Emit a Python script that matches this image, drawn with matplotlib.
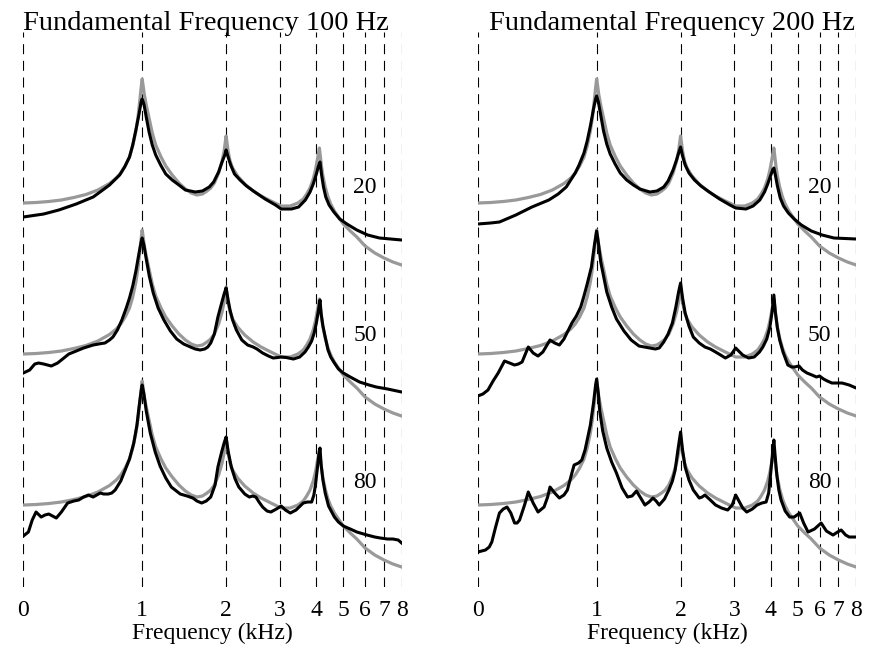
import numpy as np
import matplotlib.pyplot as plt

plt.rcParams['font.family'] = ['Liberation Serif', 'DejaVu Serif']

# frequency warping of the x axis (all-pass warping, fs = 16 kHz)
alpha = 0.46


def warp(f, a=alpha):
    f = np.asarray(f, dtype=float)
    w = np.pi * f / 8.0
    return (w + 2 * np.arctan(a * np.sin(w) / (1 - a * np.cos(w)))) * 8.0 / np.pi


def unwarp(x):
    return warp(x, -alpha)


# true spectrum (gray), level relative to 0 Hz
true_f = [0, 0.1, 0.2, 0.3, 0.4, 0.5, 0.6, 0.7, 0.76, 0.8, 0.84, 0.88, 0.91, 0.94,
          0.96, 0.98, 0.99, 1.0, 1.01, 1.02, 1.04, 1.07, 1.1, 1.135, 1.19, 1.24,
          1.31, 1.385, 1.46, 1.53, 1.6, 1.67, 1.73, 1.78, 1.83, 1.89, 1.94, 1.97,
          1.99, 2.0, 2.01, 2.03, 2.06, 2.1, 2.18, 2.3, 2.45, 2.6, 2.8, 3.03, 3.25,
          3.45, 3.6, 3.7, 3.8, 3.9, 3.97, 4.03, 4.07, 4.1, 4.13, 4.17, 4.22, 4.3,
          4.4, 4.5, 4.64, 4.8, 5.0, 5.3, 5.6, 6.0, 6.5, 7.0, 7.5, 8.0]
true_db = [0, 0.5, 1.5, 3, 5.5, 8.5, 13, 19.5, 25, 30, 37, 46, 57, 72,
           86, 105, 115, 124, 117, 109, 98, 84, 70, 58, 46, 37,
           28, 20, 14, 10, 8, 9, 12, 15, 20, 30, 42, 52,
           62, 67, 62, 52, 42, 35, 27, 19, 12, 7, 2, -3, -3,
           0, 4, 9, 15, 24, 33, 43, 50, 55, 47, 37, 27, 16,
           6, -1, -8, -14, -21, -28, -34, -43, -50, -55, -59, -62]

# estimated spectra (black), F0 = 100 Hz
est100_20_f = [0, 0.16, 0.28, 0.42, 0.56, 0.63, 0.7, 0.79, 0.835, 0.88, 0.91, 0.94,
               0.97, 0.99, 1.0, 1.017, 1.04, 1.068, 1.1, 1.135, 1.186, 1.24, 1.31,
               1.385, 1.46, 1.58, 1.67, 1.76, 1.82, 1.89, 1.94, 1.98, 2.0, 2.03,
               2.07, 2.13, 2.22, 2.33, 2.48, 2.68, 2.9, 3.03, 3.28, 3.47, 3.66, 3.8,
               3.9, 4.0, 4.06, 4.12, 4.17, 4.24, 4.32, 4.44, 4.62, 4.85, 5.15, 5.6,
               6.13, 6.75, 8.0]
est100_20_db = [-14, -11, -7, -1, 6, 12, 18, 28, 36, 46, 58, 73,
                89, 101, 104, 99, 86, 71, 58, 48, 38, 29, 23,
                18, 13, 11, 12, 16, 21, 31, 41, 48, 53, 46,
                38, 29, 23, 17, 11, 4, -2, -6, -6, -4, 3, 11,
                19, 29, 36, 41, 29, 16, 6, -2, -9, -16, -21, -27,
                -32, -35, -37]

est100_50_f = [0, 0.05, 0.09, 0.12, 0.16, 0.22, 0.27, 0.31, 0.36, 0.42, 0.48, 0.56,
               0.63, 0.66, 0.7, 0.73, 0.77, 0.81, 0.85, 0.88, 0.91, 0.94, 0.97,
               0.99, 1.0, 1.017, 1.04, 1.07, 1.11, 1.16, 1.22, 1.29, 1.36, 1.44,
               1.52, 1.58, 1.64, 1.7, 1.74, 1.78, 1.83, 1.88, 1.93, 1.97, 2.0, 2.03,
               2.06, 2.1, 2.16, 2.25, 2.35, 2.45, 2.52, 2.63, 2.75, 2.85, 2.95, 3.03,
               3.15, 3.33, 3.5, 3.65, 3.75, 3.85, 3.93, 4.0, 4.06, 4.12, 4.16, 4.22,
               4.3, 4.4, 4.5, 4.64, 4.8, 5.0, 5.3, 5.73, 6.2, 6.58, 7.2, 8.0]
est100_50_db = [-19, -16, -10, -9, -10, -12, -9, -5, 0, 3, 6, 9,
                10.5, 11, 14, 17, 24, 34, 46, 56, 68, 83, 101,
                112, 116, 109, 95, 78, 61, 46, 34, 23, 15, 10,
                7, 5, 4, 5, 7, 11, 20, 37, 50, 60, 66, 54,
                44, 34, 24, 14, 9, 7, 5, 1, -2, -4, -3.5, -3,
                -3.5, -5, -3, 2, 7, 13, 21, 31, 42, 54, 40, 28,
                17, 4, -3, -9, -15, -19, -23, -28, -31, -33, -35, -38]

est100_80_f = [0, 0.04, 0.07, 0.1, 0.14, 0.17, 0.2, 0.23, 0.26, 0.3, 0.35, 0.4,
               0.44, 0.48, 0.52, 0.56, 0.62, 0.65, 0.69, 0.72, 0.75, 0.8, 0.84,
               0.88, 0.92, 0.95, 0.97, 0.99, 1.0, 1.017, 1.04, 1.08, 1.13, 1.18,
               1.24, 1.3, 1.4, 1.48, 1.55, 1.6, 1.66, 1.72, 1.78, 1.84, 1.88, 1.93,
               1.97, 2.0, 2.03, 2.08, 2.14, 2.2, 2.3, 2.38, 2.44, 2.5, 2.56, 2.63,
               2.72, 2.8, 2.92, 3.03, 3.13, 3.25, 3.4, 3.6, 3.72, 3.85, 3.92, 3.97,
               4.03, 4.08, 4.12, 4.16, 4.22, 4.3, 4.42, 4.64, 4.8, 5.0, 5.3, 5.6,
               6.1, 6.5, 6.8, 7.2, 7.5, 7.8, 8.0]
est100_80_db = [-31, -27, -15, -7, -12, -10, -9, -11, -13, -7, 2, 4,
                5, 8, 10, 8, 12, 11, 11, 12, 15, 24, 35,
                46, 62, 80, 98, 114, 120, 111, 94, 72, 53, 39,
                27, 18, 11, 9, 7, 4, 2, 4, 8, 20, 38, 52,
                62, 68, 54, 38, 26, 18, 11, 8, 9, 8, 3, -2,
                -6, -7, -4, -1, -5, -8, -5, 2, 3, 3, 10, 20,
                36, 50, 57, 40, 25, 12, -1, -12, -17, -21, -24, -27,
                -30, -32, -33, -34, -34, -35, -38]

# estimated spectra (black), F0 = 200 Hz
est200_20_f = [0, 0.1, 0.17, 0.3, 0.43, 0.57, 0.65, 0.72, 0.8, 0.835, 0.88, 0.91,
               0.94, 0.97, 0.99, 1.0, 1.017, 1.04, 1.068, 1.1, 1.135, 1.186, 1.24,
               1.31, 1.385, 1.46, 1.58, 1.67, 1.76, 1.82, 1.89, 1.94, 1.98, 2.0,
               2.03, 2.07, 2.13, 2.22, 2.33, 2.48, 2.68, 2.9, 3.03, 3.28, 3.47, 3.66,
               3.8, 3.9, 4.0, 4.06, 4.1, 4.15, 4.22, 4.32, 4.44, 4.62, 4.85, 5.15,
               5.6, 6.13, 6.75, 8.0]
est200_20_db = [-21, -20, -19, -12, -4, 3, 9, 16, 30, 38, 50, 62,
                77, 94, 104, 107, 101, 88, 72, 59, 49, 39, 30,
                23, 18, 14, 11, 12, 16, 22, 33, 43, 52, 56,
                47, 38, 30, 23, 17, 11, 4, -2, -5, -6, -3, 3,
                11, 19, 28, 33, 35, 28, 17, 5, -3, -10, -16, -22,
                -28, -32, -35, -36]

est200_50_f = [0, 0.04, 0.08, 0.12, 0.16, 0.21, 0.25, 0.29, 0.32, 0.35, 0.4, 0.44,
               0.48, 0.52, 0.58, 0.62, 0.66, 0.7, 0.77, 0.81, 0.85, 0.88, 0.91,
               0.95, 0.98, 1.0, 1.017, 1.04, 1.07, 1.1, 1.15, 1.2, 1.28, 1.36, 1.45,
               1.58, 1.65, 1.7, 1.76, 1.82, 1.88, 1.93, 1.97, 2.0, 2.03, 2.07, 2.13,
               2.2, 2.3, 2.4, 2.5, 2.6, 2.7, 2.8, 2.92, 3.03, 3.1, 3.2, 3.35, 3.5,
               3.65, 3.75, 3.87, 3.97, 4.04, 4.1, 4.15, 4.22, 4.3, 4.42, 4.6, 4.75,
               4.85, 5.05, 5.2, 5.4, 5.63, 5.85, 6.0, 6.2, 6.4, 6.64, 6.9, 7.2, 7.6,
               8.0]
est200_50_db = [-42, -40, -36, -27, -19, -7, -9, -11, -10, -8, 7, 1,
                -2, 2, 14, 11, 9, 15, 31, 38, 47, 58, 70,
                87, 110, 123, 111, 92, 77, 62, 47, 35, 23, 14, 8,
                6, 5, 6, 12, 20, 31, 47, 62, 71, 56, 41, 28,
                17, 11, 7, 5, 2, -1, -4, -1, 6, 3, -1, -4, -3,
                2, 7, 15, 27, 42, 59, 42, 26, 14, 2, -11, -13,
                -13, -12, -16, -19, -21, -23, -22, -25, -27, -29, -29, -29, -31,
                -34]

est200_80_f = [0, 0.06, 0.09, 0.11, 0.14, 0.17, 0.2, 0.23, 0.26, 0.29, 0.31, 0.33,
               0.37, 0.4, 0.44, 0.48, 0.53, 0.56, 0.58, 0.62, 0.66, 0.7, 0.73, 0.77,
               0.79, 0.83, 0.86, 0.89, 0.91, 0.94, 0.97, 0.99, 1.0, 1.017, 1.03,
               1.06, 1.1, 1.15, 1.2, 1.26, 1.32, 1.37, 1.42, 1.47, 1.52, 1.57, 1.62,
               1.66, 1.7, 1.77, 1.83, 1.88, 1.92, 1.96, 2.0, 2.03, 2.07, 2.13, 2.2,
               2.3, 2.35, 2.4, 2.5, 2.6, 2.72, 2.85, 2.95, 3.03, 3.12, 3.2, 3.3,
               3.45, 3.58, 3.72, 3.85, 3.93, 3.99, 4.05, 4.1, 4.14, 4.2, 4.27, 4.35,
               4.5, 4.67, 4.85, 5.08, 5.25, 5.45, 5.75, 6.08, 6.35, 6.7, 6.95, 7.15,
               7.4, 7.6, 8.0]
est200_80_db = [-47, -45, -42, -37, -22, -8, -4, -2, -8, -18, -18, -15,
                0, 13, 2, -7, -2, 8, 18, 12, 7, 10, 15, 32,
                40, 42, 45, 55, 65, 80, 102, 120, 126, 111, 94,
                74, 57, 43, 32, 17, 8, 9, 14, 7, 0, 3, 7,
                4, 0, 6, 15, 24, 35, 55, 73, 55, 38, 25, 15,
                7, 8, 10, 5, 0, -3, -5, 0, 10, 3, -3, -7,
                -4, 0, 2, 3, 12, 30, 50, 65, 50, 30, 15, 5,
                -6, -12, -12, -8, -18, -27, -24, -18, -26, -30, -27, -25,
                -30, -32, -32]

row_labels = ['20', '50', '80']
row_offsets = [0, -151, -302]
label_db = [16, 19, 23]
titles = ['Fundamental Frequency 100 Hz', 'Fundamental Frequency 200 Hz']
tick_khz = [0, 1, 2, 3, 4, 5, 6, 7, 8]

panels = [
    [(est100_20_f, est100_20_db), (est100_50_f, est100_50_db), (est100_80_f, est100_80_db)],
    [(est200_20_f, est200_20_db), (est200_50_f, est200_50_db), (est200_80_f, est200_80_db)],
]

fig = plt.figure(figsize=(8.75, 6.49), dpi=100)
axes = [fig.add_axes([0.0266, 0.0955, 0.4325, 0.8552]),
        fig.add_axes([0.546, 0.0955, 0.4325, 0.8552])]

for ax, est, title, tx in zip(axes, panels, titles, [0.2354, 0.768]):
    ax.set_xscale('function', functions=(warp, unwarp))
    ax.set_xlim(0, 8)
    ax.set_ylim(-384, 171)
    for t in tick_khz:
        ax.axvline(t, color='black', lw=0.8, linestyle=(0, (9, 6)), zorder=1)
    for off, (f, db), lab, ldb in zip(row_offsets, est, row_labels, label_db):
        ax.plot(true_f, np.array(true_db) + off, color='#999999', lw=2.3,
                solid_joinstyle='round', zorder=2)
        ax.plot(f, np.array(db) + off, color='black', lw=2.2,
                solid_joinstyle='round', zorder=3)
        ax.text(6, off + ldb, lab, ha='center', va='center', fontsize=17, zorder=4,
                bbox=dict(facecolor='white', edgecolor='none', pad=0.5))
    ax.set_xticks(tick_khz)
    ax.set_xticklabels([str(t) for t in tick_khz])
    ax.tick_params(axis='x', length=0, pad=9, labelsize=17)
    ax.set_yticks([])
    for s in ax.spines.values():
        s.set_visible(False)
    ax.set_xlabel('Frequency (kHz)', fontsize=17, labelpad=2)
    fig.text(tx, 0.9538, title, ha='center', va='baseline', fontsize=20.5)

fig.savefig('out.png', dpi=100)
